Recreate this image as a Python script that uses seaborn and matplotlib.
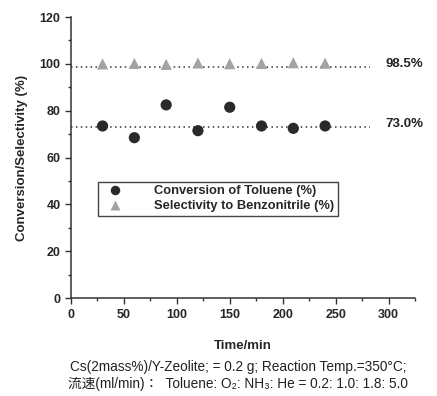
import numpy as np
import pandas as pd
import matplotlib
matplotlib.use("Agg")
import matplotlib.pyplot as plt
from matplotlib.ticker import MultipleLocator
import seaborn as sns

# data
time_min = [30, 60, 90, 120, 150, 180, 210, 240]
conversion = [73.5, 68.5, 82.5, 71.5, 81.5, 73.5, 72.5, 73.5]
selectivity = [100.0, 100.2, 99.8, 100.4, 100.1, 100.2, 100.5, 100.3]
avg_values = [98.5, 73.0]
avg_labels = ["98.5%", "73.0%"]
series_names = ["Conversion of Toluene (%)", "Selectivity to Benzonitrile (%)"]

df = pd.DataFrame({
    "Time/min": time_min * 2,
    "value": conversion + selectivity,
    "series": [series_names[0]] * len(time_min) + [series_names[1]] * len(time_min),
})

sns.set_style("ticks")
plt.rcParams["font.family"] = ["Liberation Sans", "Noto Sans CJK JP", "DejaVu Sans"]

fig = plt.figure(figsize=(4.37, 3.96), dpi=100)
ax = fig.add_axes([0.162, 0.247, 0.788, 0.71])

sns.scatterplot(data=df, x="Time/min", y="value", hue="series", style="series",
                palette=["#2a2a2a", "#a3a3a3"], markers=["o", "^"], s=65,
                edgecolor="none", ax=ax, zorder=3)

# average dotted lines with their labels
for v, lab in zip(avg_values, avg_labels):
    ax.plot([0, 282], [v, v], ls=(0, (1, 2.2)), color="#333333", lw=1.1, zorder=2)
    ax.text(297, v + 1.5, lab, ha="left", va="center",
            fontsize=9.5, fontweight="bold", color="#222222")

ax.set_xlim(0, 325)
ax.set_ylim(0, 120)
ax.xaxis.set_major_locator(MultipleLocator(50))
ax.xaxis.set_minor_locator(MultipleLocator(25))
ax.yaxis.set_major_locator(MultipleLocator(20))
ax.yaxis.set_minor_locator(MultipleLocator(10))
ax.tick_params(which="major", length=4, width=1, labelsize=9, color="#333333")
ax.tick_params(which="minor", length=2, width=1, color="#333333")
for lbl in ax.get_xticklabels() + ax.get_yticklabels():
    lbl.set_fontweight("bold")
for sp in ["left", "bottom"]:
    ax.spines[sp].set_linewidth(1.1)
    ax.spines[sp].set_color("#333333")
sns.despine(ax=ax)

ax.set_xlabel("Time/min", fontsize=9.5, fontweight="bold", labelpad=14)
ax.set_ylabel("Conversion/Selectivity (%)", fontsize=9.5, fontweight="bold", labelpad=8)

# boxed legend in the middle-left of the plot
leg = ax.legend(loc="upper left", bbox_to_anchor=(0.08, 0.415), frameon=True,
                fancybox=False, framealpha=1, edgecolor="#444444", fontsize=9.3,
                handletextpad=2.0, borderpad=0.3, labelspacing=0.2, borderaxespad=0,
                markerscale=0.85)
leg.get_frame().set_linewidth(1.0)
for t in leg.get_texts():
    t.set_fontweight("bold")

fig.text(0.545, 0.073, "Cs(2mass%)/Y-Zeolite; = 0.2 g; Reaction Temp.=350°C;",
         ha="center", va="center", fontsize=9.8, color="#222222")
fig.text(0.545, 0.03, "流速(ml/min)：  Toluene: O₂: NH₃: He = 0.2: 1.0: 1.8: 5.0",
         ha="center", va="center", fontsize=9.8, color="#222222")

fig.savefig("out.png", dpi=100)
